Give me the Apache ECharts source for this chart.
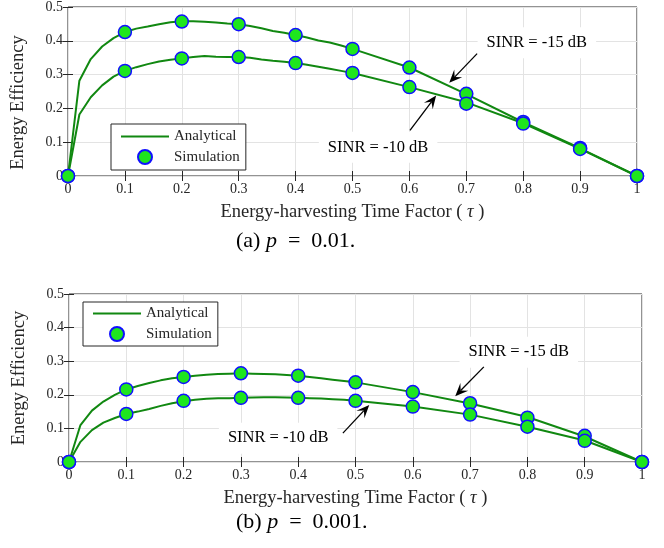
<!DOCTYPE html>
<html><head><meta charset="utf-8">
<script src="https://cdn.jsdelivr.net/npm/echarts@6/dist/echarts.min.js"></script>
<style>html,body{margin:0;padding:0;background:#fff}#c{width:664px;height:548px}</style>
</head><body><div id="c"></div>
<script>
// ---- data ----
const tauLine = [0,0.02,0.04,0.06,0.08,0.1,0.12,0.14,0.16,0.18,0.2,0.22,0.24,0.26,0.28,0.3,0.32,0.34,0.36,0.38,0.4,0.42,0.44,0.46,0.48,0.5,0.6,0.7,0.8,0.9,1];
const tauSim = [0,0.1,0.2,0.3,0.4,0.5,0.6,0.7,0.8,0.9,1];

// (a) p = 0.01
const a_ana_m15 = [0,0.282,0.346,0.383,0.408,0.426,0.436,0.442,0.449,0.455,0.458,0.458,0.456,0.454,0.451,0.449,0.444,0.437,0.429,0.424,0.417,0.410,0.401,0.395,0.386,0.376,0.321,0.242,0.159,0.082,0];
const a_ana_m10 = [0,0.182,0.233,0.268,0.294,0.311,0.322,0.331,0.339,0.344,0.348,0.352,0.355,0.353,0.352,0.352,0.350,0.345,0.341,0.338,0.334,0.329,0.323,0.317,0.311,0.305,0.263,0.218,0.156,0.080,0];
const a_sim_m15 = [0,0.426,0.457,0.449,0.417,0.376,0.321,0.243,0.160,0.083,0];
const a_sim_m10 = [0,0.311,0.348,0.352,0.334,0.305,0.263,0.214,0.155,0.080,0];

// (b) p = 0.001
const b_ana_m15 = [0,0.110,0.153,0.180,0.200,0.216,0.226,0.235,0.243,0.249,0.253,0.257,0.260,0.262,0.263,0.264,0.263,0.262,0.261,0.259,0.257,0.253,0.249,0.245,0.241,0.237,0.208,0.174,0.134,0.076,0];
const b_ana_m10 = [0,0.060,0.095,0.117,0.131,0.143,0.150,0.158,0.167,0.175,0.181,0.185,0.188,0.190,0.190,0.191,0.192,0.193,0.193,0.192,0.191,0.190,0.189,0.187,0.185,0.182,0.165,0.141,0.105,0.064,0];
const b_sim_m15 = [0,0.216,0.253,0.264,0.257,0.237,0.208,0.175,0.132,0.078,0];
const b_sim_m10 = [0,0.143,0.182,0.191,0.191,0.182,0.165,0.141,0.105,0.063,0];

const legendNames = ['Analytical','Simulation'];
const xTitle = 'Energy-harvesting Time Factor ( {i|\u03c4} )';
const yTitle = 'Energy Efficiency';
const captions = ['(a) {i|p}  =  0.01.', '(b) {i|p}  =  0.001.'];
const noteTexts = ['SINR = -15 dB','SINR = -10 dB'];

// ---- styling ----
const FONT = 'Liberation Serif';
const INK = '#262626';
const LINE = '#118811';
const FILL = '#1ee61e';
const EDGE = '#1010ff';

const zip = (xs, ys) => xs.map((x, i) => [x, ys[i]]);

const grids = [
  {left: 68, right: 27, top: 6, height: 170},
  {left: 69, right: 22, top: 294, height: 168}
];
const yNamePad = [[0, 22, 0, 0], [0, 0, 0, 0]];

const xAxes = [], yAxes = [];
grids.forEach((g, gi) => {
  xAxes.push({
    type: 'value', gridIndex: gi, min: 0, max: 1, interval: 0.1,
    name: xTitle, nameLocation: 'middle', nameGap: 27,
    nameTextStyle: {fontFamily: FONT, fontSize: 18.5, color: INK,
      rich: {i: {fontFamily: FONT, fontSize: 18.5, fontStyle: 'italic', color: INK}}},
    axisLine: {show: false},
    axisTick: {show: true, inside: true, length: 5, lineStyle: {color: INK}},
    axisLabel: {fontFamily: FONT, fontSize: 14, color: INK, margin: 6},
    splitLine: {show: true, lineStyle: {color: '#e3e3e3', width: 1}}
  });
  yAxes.push({
    type: 'value', gridIndex: gi, min: 0, max: 0.5, interval: 0.1,
    name: yTitle, nameLocation: 'middle', nameGap: 40,
    nameTextStyle: {fontFamily: FONT, fontSize: 18.5, color: INK, padding: yNamePad[gi]},
    axisLine: {show: false},
    axisTick: {show: true, inside: true, length: 5, lineStyle: {color: INK}},
    axisLabel: {fontFamily: FONT, fontSize: 14, color: INK, margin: 5},
    splitLine: {show: true, lineStyle: {color: '#e3e3e3', width: 1}}
  });
});
// mirrored ticks (top / right)
grids.forEach((g, gi) => {
  xAxes.push({type: 'value', gridIndex: gi, position: 'top', min: 0, max: 1, interval: 0.1,
    axisLine: {show: false}, axisLabel: {show: false}, splitLine: {show: false},
    axisTick: {show: true, inside: true, length: 5, lineStyle: {color: INK}}});
  yAxes.push({type: 'value', gridIndex: gi, position: 'right', min: 0, max: 0.5, interval: 0.1,
    axisLine: {show: false}, axisLabel: {show: false}, splitLine: {show: false},
    axisTick: {show: true, inside: true, length: 5, lineStyle: {color: INK}}});
});

function lineSeries(gi, ys) {
  return {type: 'line', name: legendNames[0], xAxisIndex: gi, yAxisIndex: gi,
    data: zip(tauLine, ys), symbol: 'none', smooth: false, z: 3,
    lineStyle: {color: LINE, width: 2}, itemStyle: {color: LINE}};
}
function simSeries(gi, ys) {
  return {type: 'scatter', name: legendNames[1], xAxisIndex: gi, yAxisIndex: gi,
    data: zip(tauSim, ys), symbol: 'circle', symbolSize: 13, clip: false, z: 4,
    itemStyle: {color: FILL, borderColor: EDGE, borderWidth: 1.5, opacity: 1}};
}

const legendCommon = {
  orient: 'vertical', itemWidth: 48, itemHeight: 14, itemGap: 5,
  borderColor: INK, borderWidth: 1, backgroundColor: '#fff', borderRadius: 0,
  data: [{name: legendNames[0], itemStyle: {opacity: 0}}, {name: legendNames[1]}],
  selectedMode: false,
  textStyle: {fontFamily: FONT, fontSize: 15, color: INK}
};

const chart = echarts.init(document.getElementById('c'), null, {renderer: 'canvas'});
chart.setOption({
  animation: false,
  backgroundColor: '#fff',
  grid: grids.map(g => Object.assign({show: true, borderColor: INK, borderWidth: 1, backgroundColor: 'transparent'}, g)),
  xAxis: xAxes,
  yAxis: yAxes,
  legend: [
    Object.assign({left: 111, top: 124, padding: [5, 6, 5, 9]}, legendCommon),
    Object.assign({left: 83, top: 302, padding: [4, 6, 4, 9]}, legendCommon)
  ],
  title: captions.map((t, i) => ({
    text: t, left: 236, top: i === 0 ? 230 : 511, padding: 0,
    textStyle: {fontFamily: FONT, fontSize: 22, fontWeight: 'normal', color: '#000',
      rich: {i: {fontFamily: FONT, fontSize: 22, fontStyle: 'italic', color: '#000'}}}
  })),
  series: [
    lineSeries(0, a_ana_m15), lineSeries(0, a_ana_m10),
    simSeries(0, a_sim_m15), simSeries(0, a_sim_m10),
    lineSeries(1, b_ana_m15), lineSeries(1, b_ana_m10),
    simSeries(1, b_sim_m15), simSeries(1, b_sim_m10)
  ]
});

// ---- annotations (anchored in data coordinates) ----
const notes = [
  {g: 0, t: 0, at: [0.824, 0.394], from: [0.719, 0.362], to: [0.670, 0.276]},
  {g: 0, t: 1, at: [0.545, 0.085], from: [0.601, 0.135], to: [0.647, 0.238]},
  {g: 1, t: 0, at: [0.785, 0.327], from: [0.724, 0.283], to: [0.674, 0.196]},
  {g: 1, t: 1, at: [0.365, 0.071], from: [0.478, 0.086], to: [0.524, 0.170]}
];
const els = [];
notes.forEach(n => {
  const finder = {xAxisIndex: n.g, yAxisIndex: n.g};
  const p = chart.convertToPixel(finder, n.at);
  const a = chart.convertToPixel(finder, n.from);
  const b = chart.convertToPixel(finder, n.to);
  els.push({type: 'text', z: 50, x: p[0], y: p[1],
    style: {text: noteTexts[n.t], align: 'center', verticalAlign: 'middle',
      font: '16.5px "' + FONT + '"', fill: '#000', backgroundColor: '#fff', padding: [7, 9]}});
  const dx = b[0] - a[0], dy = b[1] - a[1];
  const L = Math.hypot(dx, dy), ux = dx / L, uy = dy / L;
  const hl = 13, hw = 5.5;
  const bx = b[0] - ux * hl, by = b[1] - uy * hl;
  const nx = b[0] - ux * hl * 0.6, ny = b[1] - uy * hl * 0.6;
  els.push({type: 'line', z: 51, shape: {x1: a[0], y1: a[1], x2: nx, y2: ny},
    style: {stroke: '#000', lineWidth: 1.3}});
  els.push({type: 'polygon', z: 51, shape: {points: [
      [b[0], b[1]], [bx - uy * hw, by + ux * hw], [nx, ny], [bx + uy * hw, by - ux * hw]]},
    style: {fill: '#000'}});
});
chart.setOption({graphic: els});
</script>
</body></html>
